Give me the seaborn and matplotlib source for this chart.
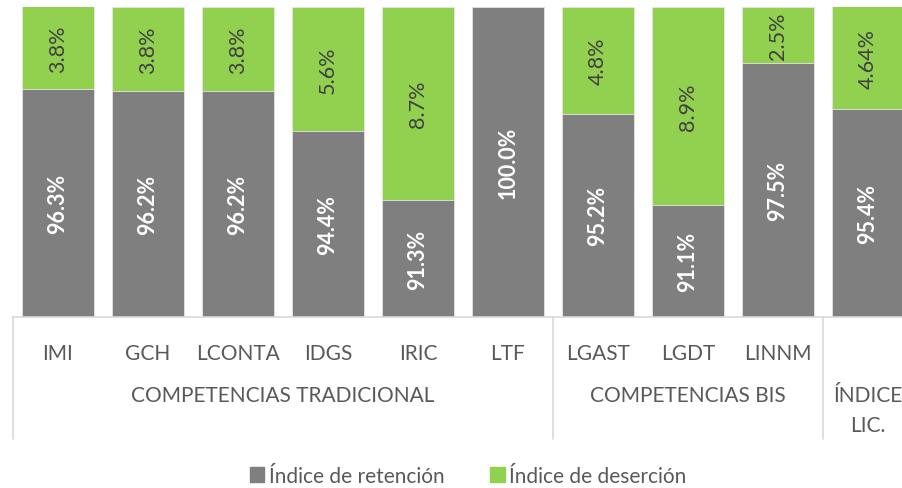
import matplotlib
matplotlib.use("Agg")
import matplotlib.pyplot as plt
import seaborn as sns
import pandas as pd
from matplotlib.patches import Patch
import matplotlib.transforms as mtransforms

categories = ["IMI", "GCH", "LCONTA", "IDGS", "IRIC", "LTF", "LGAST", "LGDT", "LINNM", "ÍNDICE LIC."]
tick_labels = ["IMI", "GCH", "LCONTA", "IDGS", "IRIC", "LTF", "LGAST", "LGDT", "LINNM", ""]
retencion = [96.3, 96.2, 96.2, 94.4, 91.3, 100.0, 95.2, 91.1, 97.5, 95.4]
desercion = [3.8, 3.8, 3.8, 5.6, 8.7, 0.0, 4.8, 8.9, 2.5, 4.64]
groups = ["COMPETENCIAS TRADICIONAL", "COMPETENCIAS BIS", "ÍNDICE\nLIC."]
group_sizes = [6, 3, 1]

GRAY = "#7F7F7F"
GREEN = "#92D050"
TXT = "#595959"

sns.set_theme(style="white")
FONT = ["Lato", "DejaVu Sans"]
plt.rcParams["font.family"] = FONT

df = pd.DataFrame({
    "cat": categories,
    "ret": retencion,
    "des": desercion,
})
df["total"] = df["ret"] + df["des"]

W, H = 902, 489
fig = plt.figure(figsize=(W / 100, H / 100), dpi=100)
ax_left, ax_right, ax_top, ax_bot = 13, 913, 8, 318
ax = fig.add_axes([ax_left / W, 1 - ax_bot / H, (ax_right - ax_left) / W, (ax_bot - ax_top) / H])

ymin, ymax = 86.05, 100.0
sns.barplot(data=df, x="cat", y="total", color=GREEN, saturation=1, width=0.8,
            edgecolor="#e6e6e6", linewidth=0.6, ax=ax)
sns.barplot(data=df, x="cat", y="ret", color=GRAY, saturation=1, width=0.8,
            edgecolor="#e6e6e6", linewidth=0.6, ax=ax)
ax.set_ylim(ymin, ymax)
ax.set_xlim(-0.5, len(categories) - 0.5)

# Data labels
for i, (r, d) in enumerate(zip(retencion, desercion)):
    yr = (ymin + min(r, ymax)) / 2
    ax.text(i, yr, f"{r}%", rotation=90, ha="center", va="center",
            color="white", fontweight="bold", fontsize=15.5, family=FONT)
    if d > 0:
        top = min(r + d, ymax)
        ax.text(i, (r + top) / 2, f"{d}%", rotation=90, ha="center", va="center",
                color="#404040", fontsize=15.5, family=FONT)

# Axes styling
for s in ["top", "right", "left"]:
    ax.spines[s].set_visible(False)
ax.spines["bottom"].set_color("#D9D9D9")
ax.spines["bottom"].set_linewidth(1.2)
ax.set_yticks([])
ax.set_ylabel("")
ax.set_xlabel("")
ax.set_xticks(range(len(categories)))
ax.set_xticklabels(tick_labels, color=TXT, fontsize=15)
ax.tick_params(axis="x", length=0, pad=19)

# Multi-level category brackets
trans = mtransforms.blended_transform_factory(ax.transData, ax.transAxes)
span = ax_bot - ax_top
line_depth = (440 - ax_bot) / span
bounds = [-0.5]
for g in group_sizes:
    bounds.append(bounds[-1] + g)
for b in bounds[:-1]:
    ax.plot([b, b], [0, -line_depth], color="#D9D9D9", lw=1.2, transform=trans, clip_on=False)

for gi, name in enumerate(groups):
    cx = (bounds[gi] + bounds[gi + 1]) / 2
    if "\n" in name:
        ax.text(cx, -(386 - ax_bot) / span, name, ha="center", va="top",
                color=TXT, fontsize=15, linespacing=1.6, transform=trans, family=FONT)
    else:
        ax.text(cx, -(396 - ax_bot) / span, name, ha="center", va="center",
                color=TXT, fontsize=15, transform=trans, family=FONT)

# Legend
handles = [Patch(color=GRAY, label="Índice de retención"),
           Patch(color=GREEN, label="Índice de deserción")]
fig.legend(handles=handles, loc="center", bbox_to_anchor=(468 / W, 1 - 477 / H),
           ncol=2, frameon=False, fontsize=15, handlelength=0.7, handleheight=0.7,
           handletextpad=0.2, columnspacing=2.2, labelcolor=TXT)

fig.savefig("out.png", dpi=100)
